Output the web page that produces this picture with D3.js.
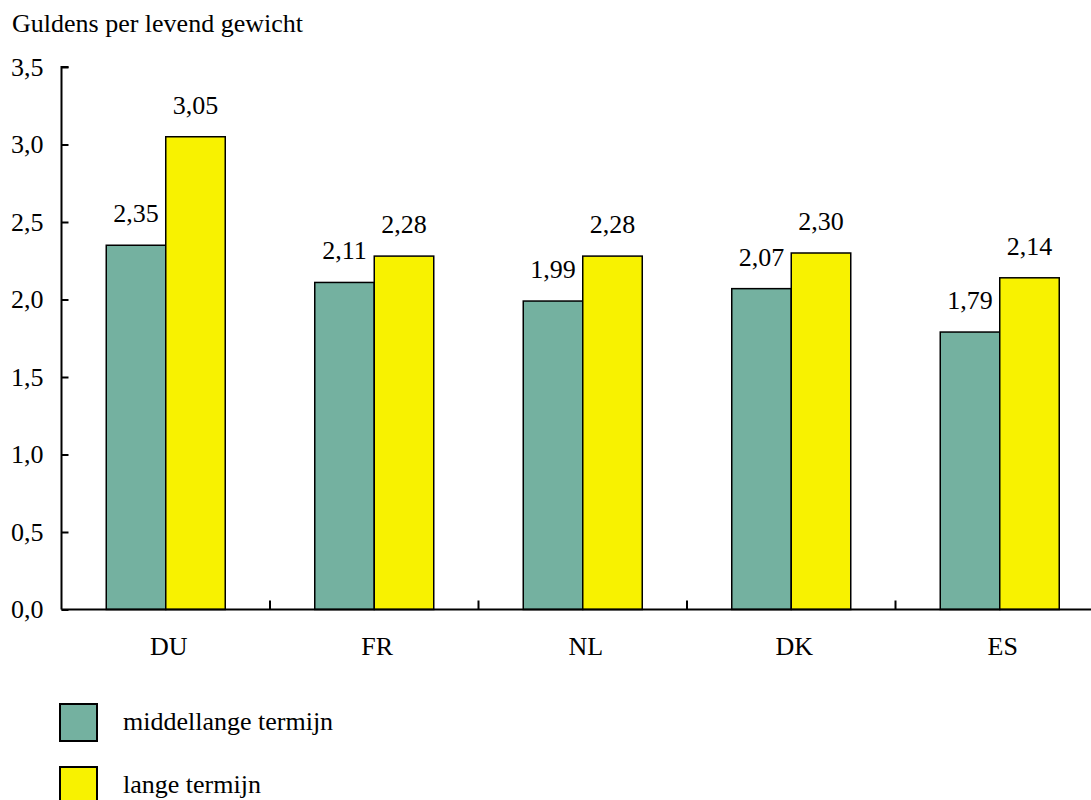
<!DOCTYPE html>
<html><head><meta charset="utf-8">
<script src="https://cdn.jsdelivr.net/npm/d3@7"></script>
<style>body{margin:0;background:#fff}svg{display:block}svg text{font-family:'Liberation Serif','Times New Roman',Times,'Tinos','DejaVu Serif',serif !important;fill:#000}</style>
</head><body>
<script>
const categories = ["DU","FR","NL","DK","ES"];
const seriesNames = ["middellange termijn","lange termijn"];
const midTerm = [2.35,2.11,1.99,2.07,1.79];
const longTerm = [3.05,2.28,2.28,2.30,2.14];
const yTicks = [0,0.5,1.0,1.5,2.0,2.5,3.0,3.5];
const colors = ["#74B1A0","#F8F200"];
const yTitle = "Guldens per levend gewicht";

(function(){
const W=1091,H=800;
const svg=d3.select("body").append("svg").attr("width",W).attr("height",H);
const fs=26;
const fmt=v=>d3.format(".2f")(v).replace(".",",");
const fmt1=v=>d3.format(".1f")(v).replace(".",",");

const left=61.5, base=609.5, plotTop=67;
const y=d3.scaleLinear().domain([0,3.5]).range([base,plotTop]);
const x=d3.scaleBand().domain(categories).range([left,left+5*208.5]).padding(0);
const gw=119;
const x1=d3.scaleBand().domain(seriesNames).range([x.bandwidth()/2-gw/2,x.bandwidth()/2+gw/2]).padding(0);

const data=categories.map((c,i)=>({c,vals:[midTerm[i],longTerm[i]]}));

const g=svg.append("g");
data.forEach(d=>{
  d.vals.forEach((v,j)=>{
    const bx=x(d.c)+x1(seriesNames[j]);
    g.append("rect").attr("x",bx).attr("y",y(v)).attr("width",x1.bandwidth()).attr("height",y(0)-y(v))
      .attr("fill",colors[j]).attr("stroke","#000").attr("stroke-width",1.5);
    g.append("text").attr("x",bx+x1.bandwidth()/2).attr("y",y(v)-23).attr("text-anchor","middle")
      .attr("font-size",fs).text(fmt(v));
  });
});

const ya=svg.append("g").attr("transform",`translate(${left},0)`)
  .call(d3.axisRight(y).tickValues(yTicks).tickSize(7).tickFormat(fmt1));
ya.attr("font-family",null).attr("font-size",null);
ya.select(".domain").attr("stroke","#000").attr("stroke-width",2).attr("d",`M7,${plotTop}H0V${base}`);
ya.selectAll(".tick line").attr("stroke","#000").attr("stroke-width",2);
ya.selectAll(".tick text").attr("x",-18).attr("text-anchor","end").attr("font-size",fs)
  .attr("fill","#000").attr("dy","0.32em");

const xa=svg.append("g").attr("transform",`translate(0,${base})`);
xa.append("line").attr("x1",left).attr("x2",W).attr("y1",0).attr("y2",0).attr("stroke","#000").attr("stroke-width",2);
const bounds=categories.slice(1).map(c=>x(c));
xa.selectAll("line.tk").data(bounds).join("line").attr("class","tk")
  .attr("x1",d=>d).attr("x2",d=>d).attr("y1",0).attr("y2",-9).attr("stroke","#000").attr("stroke-width",2);
xa.selectAll("text.cat").data(categories).join("text").attr("class","cat")
  .attr("x",d=>x(d)+x.bandwidth()/2+3).attr("y",45).attr("text-anchor","middle").attr("font-size",fs).text(d=>d);

svg.append("text").attr("x",12).attr("y",32).attr("font-size",fs).text(yTitle);

seriesNames.forEach((s,i)=>{
  const ly=704+i*63;
  svg.append("rect").attr("x",60).attr("y",ly).attr("width",37).attr("height",37)
    .attr("fill",colors[i]).attr("stroke","#000").attr("stroke-width",2);
  svg.append("text").attr("x",123).attr("y",ly+26).attr("font-size",fs).text(s);
});
})();
</script>
</body></html>
